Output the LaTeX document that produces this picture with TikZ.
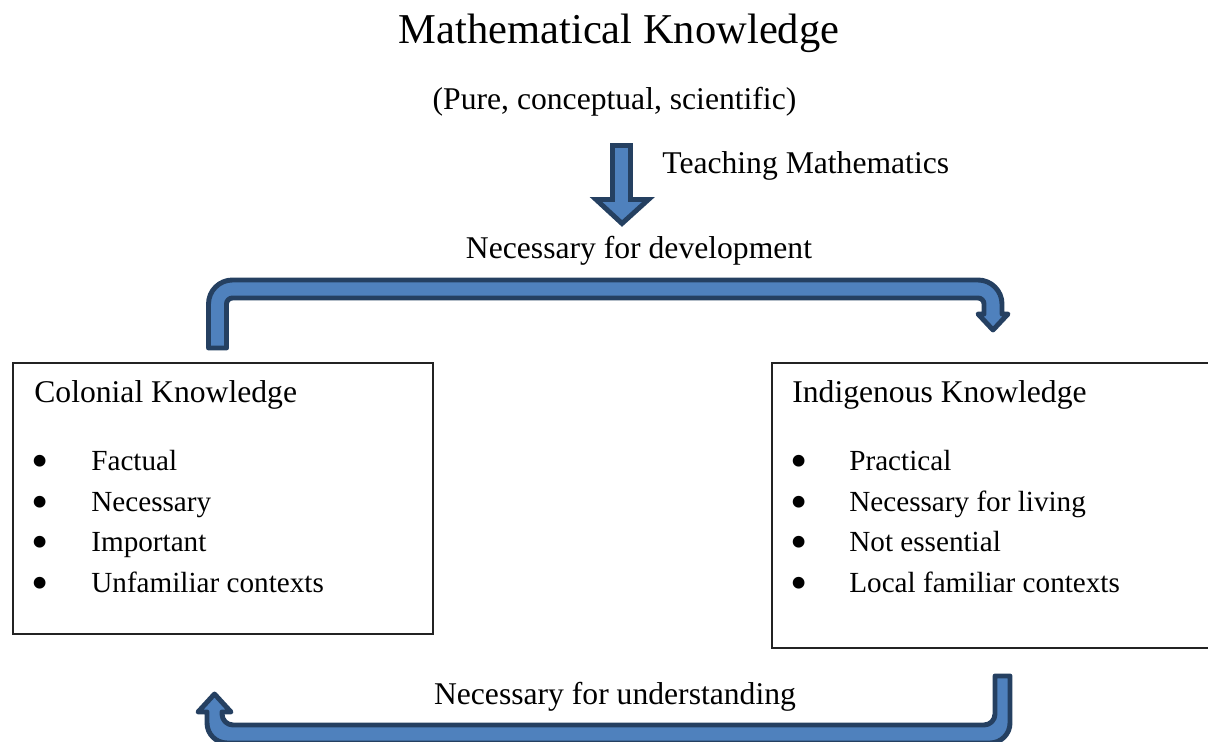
\documentclass[tikz,border=0pt]{standalone}
\usepackage{fontspec}
\setmainfont{Liberation Serif}
\usepackage{tikz}
\definecolor{arrowBlue}{RGB}{79,129,189}
\definecolor{arrowNavy}{RGB}{37,64,97}
\definecolor{boxLine}{RGB}{35,35,35}

\begin{document}
\begin{tikzpicture}[
    txt/.style={font=\fontsize{18}{22}\selectfont, inner sep=0pt},
    item/.style={font=\fontsize{16.6}{20}\selectfont, inner sep=0pt, anchor=base west},
    dot/.style={font=\fontsize{28}{30}\selectfont, inner sep=0pt, anchor=base,
      text height=0.32cm, text depth=0pt},
    knowbox/.style={draw=boxLine, line width=0.6pt, inner sep=0pt, outer sep=0pt,
      anchor=north west},
    blockarrow/.style={fill=arrowBlue, draw=arrowNavy, line width=2.8pt}
  ]
    \useasboundingbox (0,0) rectangle (24.16,14.84);

    % heading
    \node[font=\fontsize{24.2}{29}\selectfont, inner sep=0pt, anchor=base] (title) at (12.38,13.96) {Mathematical Knowledge};
    \node[txt, anchor=base] (subtitle) at (12.29,12.64) {(Pure, conceptual, scientific)};

    % down arrow under the heading
    \draw[blockarrow] (12.25,11.93) -- (12.61,11.93) -- (12.61,10.85) -- (12.97,10.85)
      -- (12.44,10.37) -- (11.92,10.85) -- (12.25,10.85) -- cycle;
    \node[txt, anchor=base west] (teach) at (13.24,11.36) {Teaching Mathematics};

    \node[txt, anchor=base] (devel) at (12.78,9.66) {Necessary for development};
    \node[txt, anchor=base] (underst) at (12.30,0.74) {Necessary for understanding};

    % the two boxes
    \node[knowbox, minimum width=8.40cm, minimum height=5.42cm] (colonial) at (0.26,7.58) {};
    \node[knowbox, minimum width=8.90cm, minimum height=5.70cm] (indigenous) at (15.44,7.58) {};

    \node[txt, anchor=base west] (colHead) at (0.68,6.78) {Colonial Knowledge};
    \node[dot] (cb1) at (0.80,5.29) {\textbullet};
    \node[dot] (cb2) at (0.80,4.47) {\textbullet};
    \node[dot] (cb3) at (0.80,3.67) {\textbullet};
    \node[dot] (cb4) at (0.80,2.85) {\textbullet};
    \node[item] (c1) at (1.82,5.42) {Factual};
    \node[item] (c2) at (1.82,4.60) {Necessary};
    \node[item] (c3) at (1.82,3.80) {Important};
    \node[item] (c4) at (1.82,2.98) {Unfamiliar contexts};

    \node[txt, anchor=base west] (indHead) at (15.84,6.78) {Indigenous Knowledge};
    \node[dot] (ib1) at (15.99,5.29) {\textbullet};
    \node[dot] (ib2) at (15.99,4.47) {\textbullet};
    \node[dot] (ib3) at (15.99,3.67) {\textbullet};
    \node[dot] (ib4) at (15.99,2.85) {\textbullet};
    \node[item] (i1) at (16.98,5.42) {Practical};
    \node[item] (i2) at (16.98,4.60) {Necessary for living};
    \node[item] (i3) at (16.98,3.80) {Not essential};
    \node[item] (i4) at (16.98,2.98) {Local familiar contexts};

    % bent arrow: colonial -> indigenous
    \draw[blockarrow, line join=round] (4.17,7.88) -- (4.17,8.76) arc[start angle=180, end angle=90, radius=0.48]
      -- (19.56,9.24) arc[start angle=90, end angle=0, radius=0.48]
      -- (20.04,8.56) -- (20.16,8.56) -- (19.86,8.24) -- (19.56,8.56) -- (19.68,8.56)
      -- (19.68,8.76) arc[start angle=0, end angle=90, radius=0.12]
      -- (4.65,8.88) arc[start angle=90, end angle=180, radius=0.12]
      -- (4.53,7.88) -- cycle;

    % u-turn arrow: indigenous -> colonial
    \draw[blockarrow, line join=round] (19.90,1.32) -- (20.20,1.32) -- (20.20,0.38) arc[start angle=0, end angle=-90, radius=0.40]
      -- (4.54,-0.02) arc[start angle=270, end angle=180, radius=0.40]
      -- (4.14,0.60) -- (3.96,0.60) -- (4.29,0.96) -- (4.62,0.60) -- (4.44,0.60)
      -- (4.44,0.56) arc[start angle=180, end angle=270, radius=0.22]
      -- (19.68,0.34) arc[start angle=270, end angle=360, radius=0.22]
      -- cycle;
\end{tikzpicture}
\end{document}
